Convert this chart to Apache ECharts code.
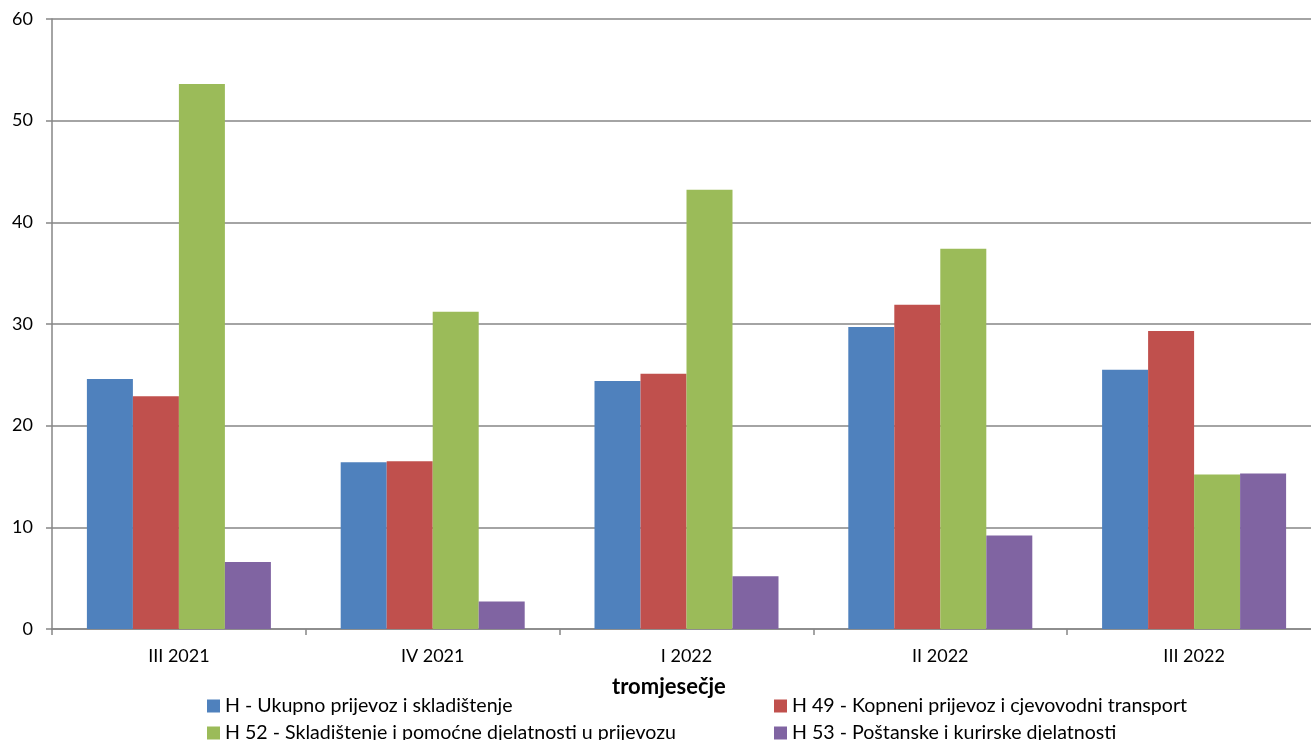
<!DOCTYPE html>
<html><head><meta charset="utf-8">
<script src="https://cdn.jsdelivr.net/npm/echarts@6/dist/echarts.min.js"></script>
<style>html,body{margin:0;padding:0;overflow:hidden;background:#fff}#c{width:1321px;height:740px}</style>
</head><body><div id="c"></div>
<script>
const categories = ['III 2021', 'IV 2021', 'I 2022', 'II 2022', 'III 2022'];
const seriesNames = [
  'H - Ukupno prijevoz i skladištenje',
  'H 49 - Kopneni prijevoz i cjevovodni transport',
  'H 52 - Skladištenje i pomoćne djelatnosti u prijevozu',
  'H 53 - Poštanske i kurirske djelatnosti'
];
const valuesH = [24.6, 16.4, 24.4, 29.7, 25.5];
const valuesH49 = [22.9, 16.5, 25.1, 31.9, 29.3];
const valuesH52 = [53.6, 31.2, 43.2, 37.4, 15.2];
const valuesH53 = [6.6, 2.7, 5.2, 9.2, 15.3];
const colors = ['#4F81BD', '#C0504D', '#9BBB59', '#8064A2'];
const axisTitle = 'tromjesečje';

const font = 'Lato, "Liberation Sans", sans-serif';
const chart = echarts.init(document.getElementById('c'));
const allValues = [valuesH, valuesH49, valuesH52, valuesH53];
const legendPos = [[207, 696], [774, 696], [207, 723], [774, 723]];
chart.setOption({
  animation: false,
  color: colors,
  textStyle: { fontFamily: font },
  grid: { left: 52, right: 0, top: 19, bottom: 111, containLabel: false },
  title: {
    text: axisTitle, left: 612, top: 676, padding: 0,
    textStyle: { fontFamily: font, fontSize: 22, fontWeight: 'bold', color: '#000' }
  },
  legend: seriesNames.map((n, i) => ({
    data: [n], orient: 'horizontal', left: legendPos[i][0], top: legendPos[i][1],
    itemWidth: 13, itemHeight: 13, icon: 'rect', padding: 0,
    textStyle: { fontFamily: font, fontSize: 19.6, color: '#000', lineHeight: 20 }
  })),
  xAxis: {
    type: 'category', data: categories,
    axisLine: { lineStyle: { color: '#868686', width: 1.5 } },
    axisTick: { show: true, length: 6, lineStyle: { color: '#868686', width: 1.5 } },
    axisLabel: { fontFamily: font, fontSize: 18, color: '#000', margin: 18 }
  },
  yAxis: {
    type: 'value', min: 0, max: 60, interval: 10,
    axisLine: { show: true, lineStyle: { color: '#868686', width: 1.5 } },
    axisTick: { show: true, length: 6, lineStyle: { color: '#868686', width: 1.5 } },
    splitLine: { lineStyle: { color: '#868686', width: 1.5 } },
    axisLabel: { fontFamily: font, fontSize: 18, color: '#000', margin: 19 }
  },
  series: seriesNames.map((n, i) => ({
    name: n, type: 'bar', data: allValues[i],
    barGap: '0%', barCategoryGap: '27.5%',
    itemStyle: { color: colors[i] }
  }))
});
</script></body></html>
